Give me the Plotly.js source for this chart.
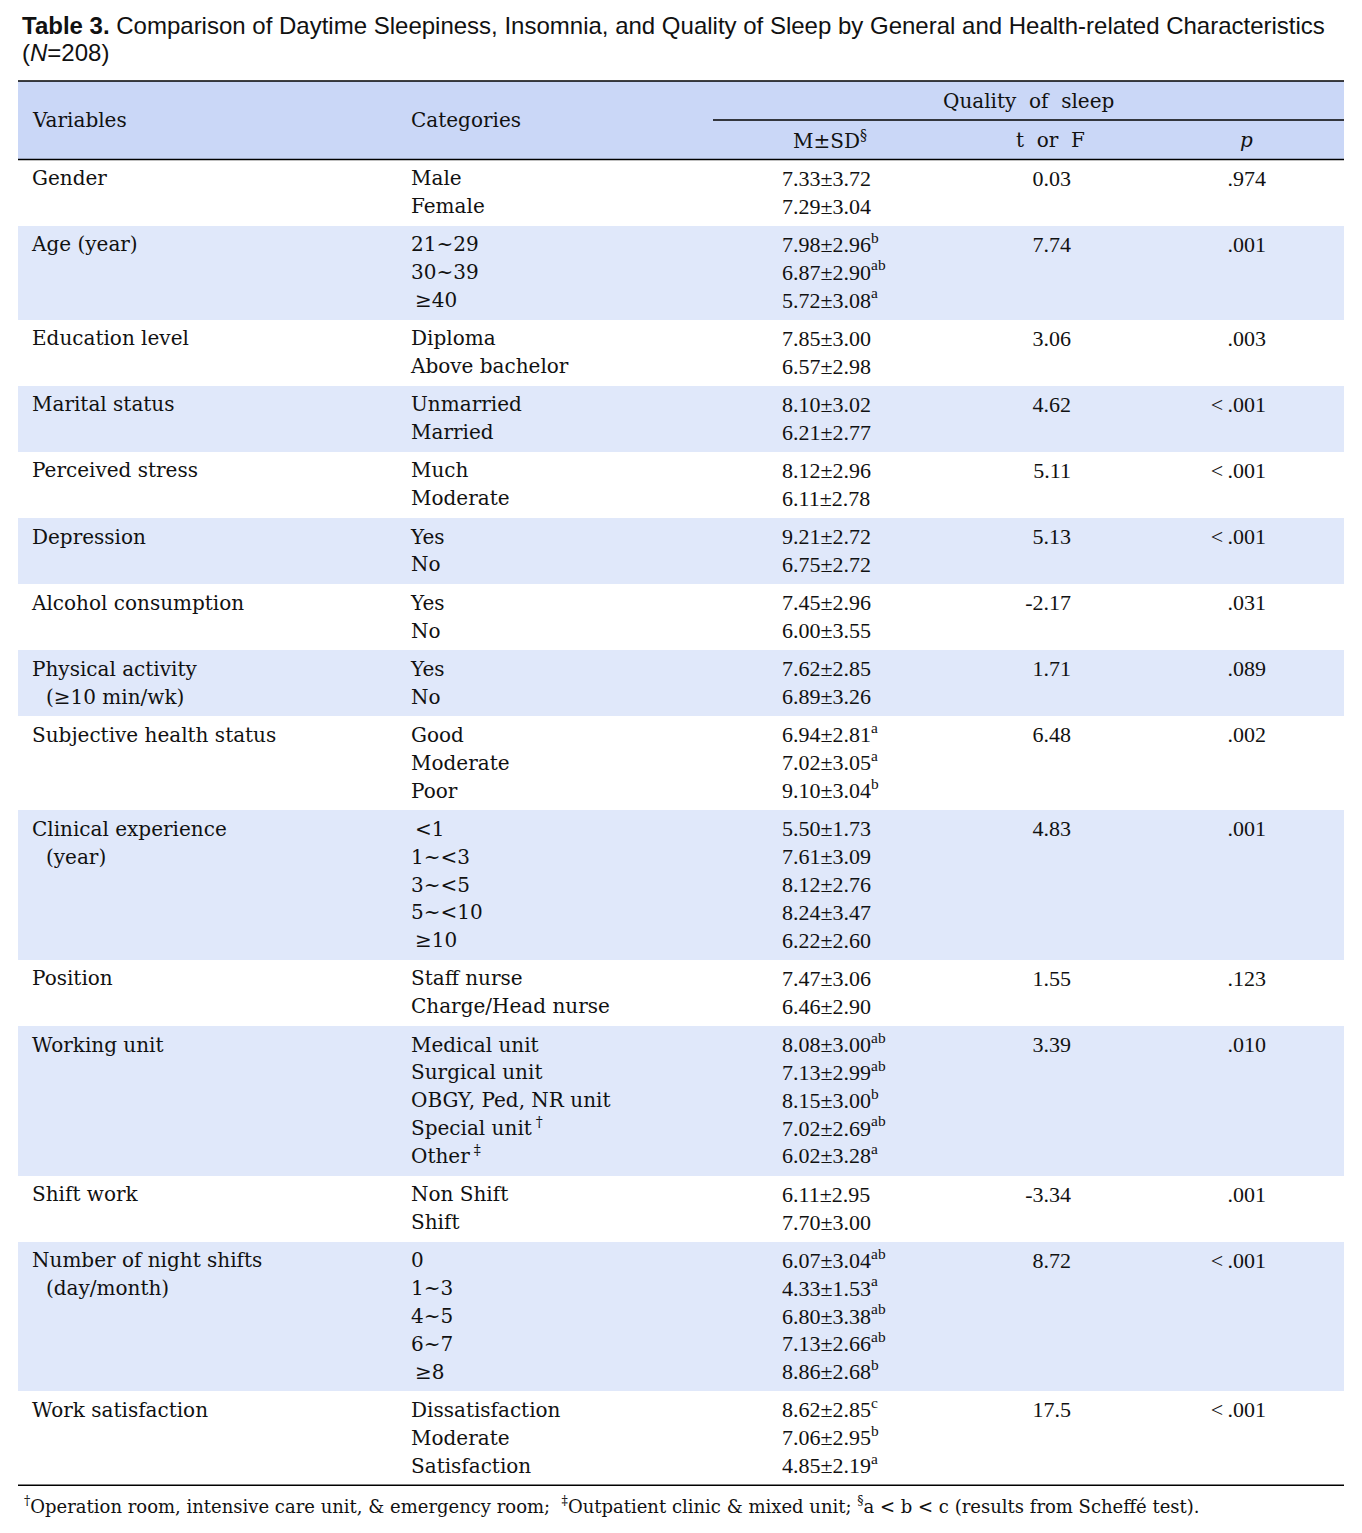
<!DOCTYPE html>
<html>
<head>
<meta charset="utf-8">
<script src="https://cdn.plot.ly/plotly-3.0.1.min.js"></script>
<style>html,body{margin:0;padding:0;background:#fff;}</style>
</head>
<body>
<div id="chart" style="width:1362px;height:1533px;"></div>
<script>
// ---------------- DATA ----------------
const variableLines = [
  ["Gender"], ["Age (year)"], ["Education level"], ["Marital status"],
  ["Perceived stress"], ["Depression"], ["Alcohol consumption"],
  ["Physical activity", "(≥10 min/wk)"], ["Subjective health status"],
  ["Clinical experience", "(year)"], ["Position"], ["Working unit"],
  ["Shift work"], ["Number of night shifts", "(day/month)"], ["Work satisfaction"]
];
const categories = [
  ["Male", "Female"],
  ["21~29", "30~39", "≥40"],
  ["Diploma", "Above bachelor"],
  ["Unmarried", "Married"],
  ["Much", "Moderate"],
  ["Yes", "No"],
  ["Yes", "No"],
  ["Yes", "No"],
  ["Good", "Moderate", "Poor"],
  ["<1", "1~<3", "3~<5", "5~<10", "≥10"],
  ["Staff nurse", "Charge/Head nurse"],
  ["Medical unit", "Surgical unit", "OBGY, Ped, NR unit", "Special unit†", "Other‡"],
  ["Non Shift", "Shift"],
  ["0", "1~3", "4~5", "6~7", "≥8"],
  ["Dissatisfaction", "Moderate", "Satisfaction"]
];
const means = [
  [7.33, 7.29], [7.98, 6.87, 5.72], [7.85, 6.57], [8.10, 6.21], [8.12, 6.11],
  [9.21, 6.75], [7.45, 6.00], [7.62, 6.89], [6.94, 7.02, 9.10],
  [5.50, 7.61, 8.12, 8.24, 6.22], [7.47, 6.46], [8.08, 7.13, 8.15, 7.02, 6.02],
  [6.11, 7.70], [6.07, 4.33, 6.80, 7.13, 8.86], [8.62, 7.06, 4.85]
];
const sds = [
  [3.72, 3.04], [2.96, 2.90, 3.08], [3.00, 2.98], [3.02, 2.77], [2.96, 2.78],
  [2.72, 2.72], [2.96, 3.55], [2.85, 3.26], [2.81, 3.05, 3.04],
  [1.73, 3.09, 2.76, 3.47, 2.60], [3.06, 2.90], [3.00, 2.99, 3.00, 2.69, 3.28],
  [2.95, 3.00], [3.04, 1.53, 3.38, 2.66, 2.68], [2.85, 2.95, 2.19]
];
const scheffe = [
  ["", ""], ["b", "ab", "a"], ["", ""], ["", ""], ["", ""], ["", ""], ["", ""], ["", ""],
  ["a", "a", "b"], ["", "", "", "", ""], ["", ""], ["ab", "ab", "b", "ab", "a"],
  ["", ""], ["ab", "a", "ab", "ab", "b"], ["c", "b", "a"]
];
const statValues = ["0.03", "7.74", "3.06", "4.62", "5.11", "5.13", "-2.17", "1.71",
  "6.48", "4.83", "1.55", "3.39", "-3.34", "8.72", "17.5"];
const pValues = [".974", ".001", ".003", "<.001", "<.001", "<.001", ".031", ".089",
  ".002", ".001", ".123", ".010", ".001", "<.001", "<.001"];

// ---------------- LAYOUT CONSTANTS ----------------
const X_LEFT = 18, X_RIGHT = 1344;
const X_VAR = 32, VAR_INDENT = 14, X_CAT = 411, X_MSD = 782, X_STAT = 1071, X_P = 1266;
const HEADER_TOP = 81, HEADER_MID = 120, BODY_TOP = 159.5;
const LINE = 27.85, PAD = 10.4, TEXT_DY = 1.6;
const SHADE = "#e0e8fa", HEAD_BG = "#cad7f7";
const TEXT_FONT = "DejaVu Serif", NUM_FONT = "Liberation Serif";

function esc(s) { return s.replace(/&/g, "&amp;").replace(/</g, "&lt;"); }
function catText(s) {
  let t = esc(s);
  t = t.replace(/([†‡])/g, "\u2009<sup>$1</sup>");
  if (/^(&lt;|≥)/.test(t)) t = "\u2009" + t;
  return t;
}

// compute rows
const rowTop = [], rowH = [];
let cur = BODY_TOP;
categories.forEach((c) => {
  const h = c.length * LINE + PAD;
  rowTop.push(cur); rowH.push(h); cur += h;
});
const BODY_BOTTOM = cur;

const lineY = (r, k) => rowTop[r] + PAD / 2 + LINE * (k + 0.5) + TEXT_DY;

// background bars
const bgY = [(HEADER_TOP + BODY_TOP) / 2], bgW = [BODY_TOP - HEADER_TOP], bgC = [HEAD_BG];
rowTop.forEach((t, i) => { bgY.push(t + rowH[i] / 2); bgW.push(rowH[i]); bgC.push(i % 2 ? SHADE : "#ffffff"); });

const bgTrace = {
  type: "bar", orientation: "h", y: bgY, x: bgY.map(() => X_RIGHT - X_LEFT),
  base: X_LEFT, width: bgW, marker: { color: bgC, line: { width: 0 } },
  hoverinfo: "skip", showlegend: false
};

// text traces
const varX = [], varY = [], varT = [];
variableLines.forEach((lines, r) => lines.forEach((s, k) => {
  varX.push(X_VAR + (k > 0 ? VAR_INDENT : 0)); varY.push(lineY(r, k)); varT.push(esc(s));
}));
const catX = [], catY = [], catT = [];
categories.forEach((lines, r) => lines.forEach((s, k) => {
  catX.push(X_CAT); catY.push(lineY(r, k)); catT.push(catText(s));
}));
const msdX = [], msdY = [], msdT = [];
means.forEach((arr, r) => arr.forEach((m, k) => {
  msdX.push(X_MSD); msdY.push(lineY(r, k));
  const sup = scheffe[r][k] ? "<sup>" + scheffe[r][k] + "</sup>" : "";
  msdT.push(m.toFixed(2) + "±" + sds[r][k].toFixed(2) + sup);
}));
const statY = statValues.map((v, r) => lineY(r, 0));
const pY = pValues.map((v, r) => lineY(r, 0));

function txt(x, y, t, pos, family, size) {
  return {
    type: "scatter", mode: "text", x: x, y: y, text: t, textposition: pos,
    textfont: { family: family, size: size, color: "#111" },
    hoverinfo: "skip", showlegend: false, cliponaxis: false
  };
}

const traces = [
  bgTrace,
  txt(varX, varY, varT, "middle right", TEXT_FONT, 20),
  txt(catX, catY, catT, "middle right", TEXT_FONT, 20),
  txt(msdX, msdY, msdT, "middle right", NUM_FONT, 22),
  txt(statY.map(() => X_STAT), statY, statValues, "middle left", NUM_FONT, 22),
  txt(pY.map(() => X_P), pY, pValues.map(p => p.replace("<", "&lt;\u2009")), "middle left", NUM_FONT, 22)
];

const lineShape = (x0, x1, y, w) => ({ type: "line", xref: "x", yref: "y", x0: x0, x1: x1, y0: y, y1: y, line: { color: "#000", width: w } });

const ann = (x, y, text, xanchor, family, size) => ({
  xref: "x", yref: "y", x: x, y: y, text: text, showarrow: false,
  xanchor: xanchor, yanchor: "middle", font: { family: family, size: size, color: "#111" }
});

const layout = {
  width: 1362, height: 1533,
  margin: { l: 0, r: 0, t: 0, b: 0, pad: 0 },
  paper_bgcolor: "#fff", plot_bgcolor: "#fff",
  xaxis: { range: [0, 1362], visible: false, fixedrange: true },
  yaxis: { range: [1533, 0], visible: false, fixedrange: true },
  bargap: 0, showlegend: false, hovermode: false,
  shapes: [
    lineShape(X_LEFT, X_RIGHT, HEADER_TOP, 1.5),
    lineShape(713, X_RIGHT, HEADER_MID, 1.5),
    lineShape(X_LEFT, X_RIGHT, BODY_TOP, 1.5),
    lineShape(X_LEFT, X_RIGHT, BODY_BOTTOM, 1.5)
  ],
  annotations: [
    ann(20, 25, "<b>Table 3.</b> Comparison of Daytime Sleepiness, Insomnia, and Quality of Sleep by General and Health-related Characteristics", "left", "Liberation Sans", 24),
    ann(20, 52, "(<i>N</i>=208)", "left", "Liberation Sans", 24),
    ann(X_VAR - 2, 120, "Variables", "left", TEXT_FONT, 20),
    ann(X_CAT - 2, 120, "Categories", "left", TEXT_FONT, 20),
    ann(1028, 101, "Quality\u00a0 of\u00a0 sleep", "center", TEXT_FONT, 20),
    ann(830, 140, "M±SD<sup>§</sup>", "center", TEXT_FONT, 20),
    ann(1050, 140, "t\u00a0 or\u00a0 F", "center", TEXT_FONT, 20),
    ann(1246, 140, "<i>p</i>", "center", TEXT_FONT, 20),
    ann(22, 1505, "<sup>†</sup>Operation room, intensive care unit, &amp; emergency room;\u00a0 <sup>‡</sup>Outpatient clinic &amp; mixed unit; <sup>§</sup>a &lt; b &lt; c (results from Scheffé test).", "left", TEXT_FONT, 18)
  ]
};

Plotly.newPlot("chart", traces, layout, { staticPlot: true, displayModeBar: false });
</script>
</body>
</html>
